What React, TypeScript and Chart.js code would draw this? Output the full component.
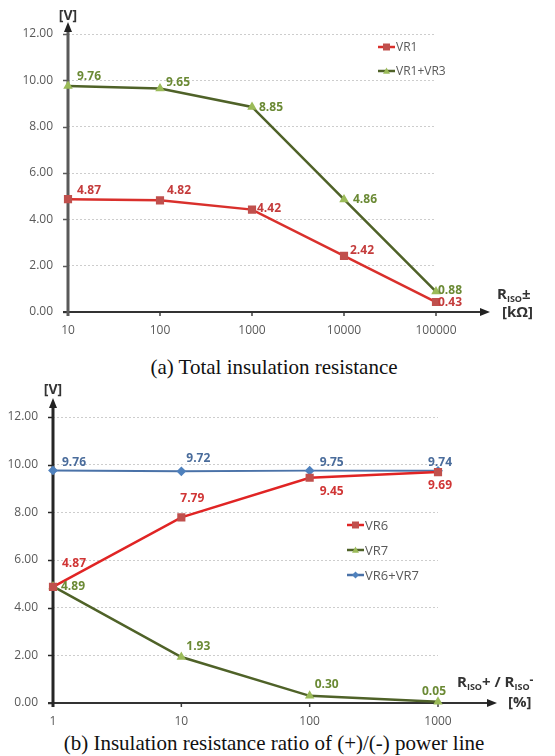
import React, { useEffect, useRef } from "react";
import { Chart, registerables } from "chart.js";
Chart.register(...registerables);

// ---------- data ----------
const resistanceA = [10, 100, 1000, 10000, 100000];
const vr1 = [4.87, 4.82, 4.42, 2.42, 0.43];
const vr1vr3 = [9.76, 9.65, 8.85, 4.86, 0.88];

const ratioB = [1, 10, 100, 1000];
const vr6 = [4.87, 7.79, 9.45, 9.69];
const vr7 = [4.89, 1.93, 0.3, 0.05];
const vr6vr7 = [9.76, 9.72, 9.75, 9.74];

const yTickValues = [0, 2, 4, 6, 8, 10, 12];

// ---------- styles (label offsets relative to point) ----------
const offVR1 = [[9, -9], [7, -10], [5, -1], [6, -5], [2, 1]];
const offVR1VR3 = [[9, -9], [6, -6], [7, 1], [9, 0], [2, -1]];
const offVR6 = [[9, -23], [-1, -19], [10, 14], [-10, 14]];
const offVR7 = [[8, 0], [5, -10], [5, -11], [-16, -10]];
const offVR6VR7 = [[9, -8], [5, -13], [10, -8], [-10, -8]];

const RED = "#d9302c";
const RED_MK = "#c0504d";
const RED_LB = "#c43c3c";
const GREEN = "#4f6228";
const GREEN_MK = "#9bbb59";
const GREEN_LB = "#6b8a35";
const BLUE = "#4a72a8";
const BLUE_MK = "#4f81bd";
const BLUE_LB = "#4a6c9b";
const SANS = "'Open Sans', 'Noto Sans', sans-serif";

function drawMarker(ctx: CanvasRenderingContext2D, style: string, x: number, y: number, r: number, color: string) {
  ctx.save();
  ctx.fillStyle = color;
  ctx.beginPath();
  if (style === "rect") {
    ctx.rect(x - r, y - r, 2 * r, 2 * r);
  } else if (style === "triangle") {
    ctx.moveTo(x, y - r);
    ctx.lineTo(x + r, y + r * 0.8);
    ctx.lineTo(x - r, y + r * 0.8);
    ctx.closePath();
  } else {
    ctx.moveTo(x, y - r);
    ctx.lineTo(x + r, y);
    ctx.lineTo(x, y + r);
    ctx.lineTo(x - r, y);
    ctx.closePath();
  }
  ctx.fill();
  ctx.restore();
}

function drawSegments(ctx: CanvasRenderingContext2D, x: number, y: number, segs: [string, number, number][]) {
  let cx = x;
  for (const [t, size, dy] of segs) {
    ctx.font = `bold ${size}px ${SANS}`;
    ctx.fillText(t, cx, y + dy);
    cx += ctx.measureText(t).width;
  }
}

type Opts = {
  yAxisColor: string;
  yTipAbove: number;
  yTitleAbove: number;
  xTipRight: number;
  xTicks: number[];
  legend: { x: number; y: number; gap: number; size: number };
  xLabel1: { dx: number; dy: number; segs: [string, number, number][] };
  xLabel2: { dx: number; dy: number; text: string };
};

const overlayPlugin = {
  id: "overlay",
  beforeDatasetsDraw(chart: any, _a: any, o: Opts) {
    const ctx = chart.ctx as CanvasRenderingContext2D;
    const ca = chart.chartArea;
    const xs = chart.scales.x;
    const ys = chart.scales.y;
    ctx.save();
    // y tick marks
    ctx.strokeStyle = o.yAxisColor;
    ctx.lineWidth = 1.5;
    for (const v of yTickValues) {
      const py = Math.round(ys.getPixelForValue(v)) + 0.5;
      ctx.beginPath();
      ctx.moveTo(ca.left - 5, py);
      ctx.lineTo(ca.left, py);
      ctx.stroke();
    }
    // x tick marks
    ctx.strokeStyle = "#404040";
    for (const v of o.xTicks) {
      const px = xs.getPixelForValue(v);
      ctx.beginPath();
      ctx.moveTo(px, ca.bottom);
      ctx.lineTo(px, ca.bottom + 4);
      ctx.stroke();
    }
    // x axis
    const xTip = ca.right + o.xTipRight;
    ctx.strokeStyle = "#333";
    ctx.lineWidth = 2;
    ctx.beginPath();
    ctx.moveTo(ca.left - 5, ca.bottom);
    ctx.lineTo(xTip - 8, ca.bottom);
    ctx.stroke();
    ctx.fillStyle = "#222";
    ctx.beginPath();
    ctx.moveTo(xTip, ca.bottom);
    ctx.lineTo(xTip - 10, ca.bottom - 4);
    ctx.lineTo(xTip - 10, ca.bottom + 4);
    ctx.closePath();
    ctx.fill();
    // y axis
    const yTip = ca.top - o.yTipAbove;
    ctx.strokeStyle = o.yAxisColor;
    ctx.lineWidth = 3;
    ctx.beginPath();
    ctx.moveTo(ca.left, ca.bottom + 4);
    ctx.lineTo(ca.left, yTip + 8);
    ctx.stroke();
    ctx.fillStyle = "#222";
    ctx.beginPath();
    ctx.moveTo(ca.left, yTip);
    ctx.lineTo(ca.left - 4, yTip + 10);
    ctx.lineTo(ca.left + 4, yTip + 10);
    ctx.closePath();
    ctx.fill();
    ctx.restore();
  },
  afterDraw(chart: any, _a: any, o: Opts) {
    const ctx = chart.ctx as CanvasRenderingContext2D;
    const ca = chart.chartArea;
    ctx.save();
    // y title
    ctx.fillStyle = "#333";
    ctx.font = `bold 14px ${SANS}`;
    ctx.textAlign = "center";
    ctx.textBaseline = "middle";
    ctx.fillText("[V]", ca.left, ca.top - o.yTitleAbove);
    // x title
    ctx.textAlign = "left";
    drawSegments(ctx, ca.right + o.xLabel1.dx, ca.bottom + o.xLabel1.dy, o.xLabel1.segs);
    ctx.font = `bold 15px ${SANS}`;
    ctx.fillText(o.xLabel2.text, ca.right + o.xLabel2.dx, ca.bottom + o.xLabel2.dy);
    // data labels
    ctx.font = `bold 12px ${SANS}`;
    chart.data.datasets.forEach((ds: any, i: number) => {
      const meta = chart.getDatasetMeta(i);
      meta.data.forEach((el: any, j: number) => {
        const [dx, dy] = ds.labelOffsets[j];
        ctx.fillStyle = ds.labelColor;
        ctx.fillText(ds.data[j].y.toFixed(2), el.x + dx, el.y + dy);
      });
    });
    // legend
    const lg = o.legend;
    chart.data.datasets.forEach((ds: any, i: number) => {
      const y = lg.y + i * lg.gap;
      ctx.strokeStyle = ds.borderColor;
      ctx.lineWidth = 2.5;
      ctx.beginPath();
      ctx.moveTo(lg.x, y);
      ctx.lineTo(lg.x + 17, y);
      ctx.stroke();
      drawMarker(ctx, ds.pointStyle, lg.x + 8.5, y, 3.5, ds.pointBackgroundColor);
      ctx.fillStyle = "#595959";
      ctx.font = `${lg.size}px ${SANS}`;
      ctx.fillText(ds.label, lg.x + 18, y + 1);
    });
    ctx.restore();
  },
};

function buildChart(
  canvas: HTMLCanvasElement,
  datasets: any[],
  xMin: number,
  xMax: number,
  xTicks: number[],
  layout: { top: number; right: number; left: number; bottom: number; height: number },
  opts: Opts
) {
  return new Chart(canvas, {
    type: "line",
    data: { datasets },
    options: {
      animation: false,
      responsive: false,
      events: [],
      layout: { padding: { top: layout.top, right: layout.right, left: 0, bottom: 0 } },
      plugins: {
        legend: { display: false },
        tooltip: { enabled: false },
        overlay: opts,
      } as any,
      scales: {
        x: {
          type: "logarithmic",
          min: xMin,
          max: xMax,
          afterBuildTicks: (s: any) => {
            s.ticks = xTicks.map((v) => ({ value: v }));
          },
          afterFit: (s: any) => {
            s.height = layout.height - layout.bottom;
          },
          ticks: {
            autoSkip: false,
            maxRotation: 0,
            padding: 11,
            color: "#595959",
            font: { family: SANS, size: 12 },
            callback: (v: any) => String(v),
          },
          grid: { display: false, drawTicks: false },
          border: { display: false },
        },
        y: {
          min: 0,
          max: 12,
          afterBuildTicks: (s: any) => {
            s.ticks = yTickValues.map((v) => ({ value: v }));
          },
          afterFit: (s: any) => {
            s.width = layout.left;
          },
          ticks: {
            padding: 15,
            color: "#595959",
            font: { family: SANS, size: 12 },
            callback: (v: any) => Number(v).toFixed(2),
          },
          grid: { color: "#cdcdcd", lineWidth: 1, drawTicks: false },
          border: { display: false, dash: [2, 2] },
        },
      },
    } as any,
    plugins: [overlayPlugin as any],
  });
}

const mkPts = (xs: number[], ys: number[]) => xs.map((x, i) => ({ x, y: ys[i] }));

export default function App() {
  const refA = useRef<HTMLCanvasElement>(null);
  const refB = useRef<HTMLCanvasElement>(null);

  useEffect(() => {
    const common = { clip: false, tension: 0, borderWidth: 2.5 };
    const chartA = buildChart(
      refA.current!,
      [
        {
          ...common,
          label: "VR1",
          data: mkPts(resistanceA, vr1),
          borderColor: RED,
          pointStyle: "rect",
          pointRadius: 4,
          pointBackgroundColor: RED_MK,
          pointBorderColor: RED_MK,
          labelColor: RED_LB,
          labelOffsets: offVR1,
        },
        {
          ...common,
          label: "VR1+VR3",
          data: mkPts(resistanceA, vr1vr3),
          borderColor: GREEN,
          pointStyle: "triangle",
          pointRadius: 3,
          pointBackgroundColor: GREEN_MK,
          pointBorderColor: GREEN_MK,
          labelColor: GREEN_LB,
          labelOffsets: offVR1VR3,
        },
      ],
      10,
      100000,
      resistanceA,
      { top: 34, right: 555 - 436, left: 68, bottom: 312, height: 345 },
      {
        yAxisColor: "#5a5a5a",
        yTipAbove: 12,
        yTitleAbove: 18,
        xTipRight: 54,
        xTicks: resistanceA,
        legend: { x: 378, y: 47, gap: 24, size: 12 },
        xLabel1: { dx: 61, dy: -17, segs: [["R", 15, 0], ["ISO", 9, 4], ["±", 15, 0]] },
        xLabel2: { dx: 66, dy: 1, text: "[kΩ]" },
      }
    );
    const chartB = buildChart(
      refB.current!,
      [
        {
          ...common,
          label: "VR6",
          data: mkPts(ratioB, vr6),
          borderColor: "#e02424",
          pointStyle: "rect",
          pointRadius: 4,
          pointBackgroundColor: RED_MK,
          pointBorderColor: RED_MK,
          labelColor: "#d03535",
          labelOffsets: offVR6,
        },
        {
          ...common,
          label: "VR7",
          data: mkPts(ratioB, vr7),
          borderColor: GREEN,
          pointStyle: "triangle",
          pointRadius: 3,
          pointBackgroundColor: GREEN_MK,
          pointBorderColor: GREEN_MK,
          labelColor: GREEN_LB,
          labelOffsets: offVR7,
        },
        {
          ...common,
          label: "VR6+VR7",
          data: mkPts(ratioB, vr6vr7),
          borderColor: BLUE,
          borderWidth: 2,
          pointStyle: "rectRot",
          pointRadius: 3.5,
          pointBackgroundColor: BLUE_MK,
          pointBorderColor: BLUE_MK,
          labelColor: BLUE_LB,
          labelOffsets: offVR6VR7,
        },
      ],
      1,
      1000,
      ratioB,
      { top: 42, right: 555 - 438, left: 53, bottom: 328, height: 355 },
      {
        yAxisColor: "#262626",
        yTipAbove: 19,
        yTitleAbove: 27,
        xTipRight: 59,
        xTicks: ratioB,
        legend: { x: 347, y: 150, gap: 25, size: 13 },
        xLabel1: { dx: 19, dy: -20, segs: [["R", 15, 0], ["ISO", 9, 4], ["+ / R", 15, 0], ["ISO", 9, 4], ["-", 12, -2]] },
        xLabel2: { dx: 70, dy: 0, text: "[%]" },
      }
    );
    return () => {
      chartA.destroy();
      chartB.destroy();
    };
  }, []);

  const caption: React.CSSProperties = {
    position: "absolute",
    left: 0,
    width: 548,
    textAlign: "center",
    fontFamily: "'Liberation Serif', 'Times New Roman', serif",
    fontSize: 21,
    lineHeight: "24px",
    color: "#111",
    whiteSpace: "nowrap",
  };

  return (
    <div style={{ position: "fixed", left: 0, top: 0, width: 555, height: 756, background: "#fff", overflow: "hidden" }}>
      <canvas ref={refA} width={555} height={345} style={{ position: "absolute", left: 0, top: 0, width: 555, height: 345 }} />
      <div style={{ ...caption, top: 355 }}>(a) Total insulation resistance</div>
      <canvas ref={refB} width={555} height={355} style={{ position: "absolute", left: 0, top: 375, width: 555, height: 355 }} />
      <div style={{ ...caption, top: 731 }}>(b) Insulation resistance ratio of (+)/(-) power line</div>
    </div>
  );
}
